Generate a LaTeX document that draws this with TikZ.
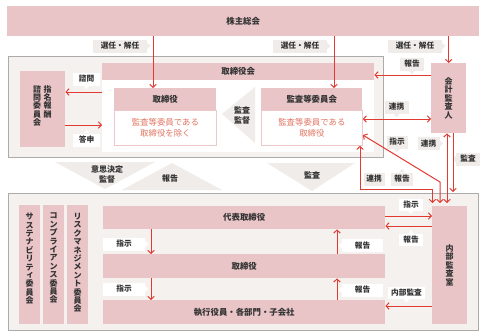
\documentclass[tikz,border=0pt]{standalone}
\usepackage{fontspec}
\setmainfont{Noto Sans CJK JP}
\usetikzlibrary{arrows.meta,calc}
\definecolor{pinkc}{HTML}{EAC5C8}
\definecolor{pinkln}{HTML}{EEC7CA}
\definecolor{redc}{HTML}{E23A31}
\definecolor{salmon}{HTML}{E27562}
\definecolor{lgray}{HTML}{F0ECE9}
\definecolor{bgg}{HTML}{F4F1EF}
\definecolor{frm}{HTML}{ABABAB}
\definecolor{txt}{HTML}{333333}
\newcommand\ptrD[2]{\fill[#1] ([xshift=-3pt]#2.south) -- ([xshift=3pt]#2.south) -- ([yshift=-3.5pt]#2.south) -- cycle;}
\newcommand\ptrU[2]{\fill[#1] ([xshift=-3pt]#2.north) -- ([xshift=3pt]#2.north) -- ([yshift=3.5pt]#2.north) -- cycle;}
\newcommand\ptrR[2]{\fill[#1] ([yshift=-3pt]#2.east) -- ([yshift=3pt]#2.east) -- ([xshift=3.5pt]#2.east) -- cycle;}
\newcommand\ptrL[2]{\fill[#1] ([yshift=-3pt]#2.west) -- ([yshift=3pt]#2.west) -- ([xshift=-3.5pt]#2.west) -- cycle;}
\newcommand\smallk[1]{\hspace*{1.2pt}\raisebox{1.2pt}{#1}}
\begin{document}
\begin{tikzpicture}[x=1pt,y=-1pt,
  box/.style={fill=pinkc, inner sep=0pt, anchor=north west, text=txt, font=\bfseries\fontsize{8.4}{10}\selectfont},
  vbox/.style={box, align=center, font=\bfseries\fontsize{8}{8.4}\selectfont},
  vtxt/.style={inner sep=0pt, anchor=north, align=center, text=txt, font=\bfseries\fontsize{8}{8.4}\selectfont},
  frame/.style={draw=frm, line width=0.8pt, fill=bgg, anchor=north west, inner sep=0pt},
  body/.style={draw=pinkln, line width=0.8pt, fill=white, anchor=north west, inner sep=0pt, align=center, text=salmon, font=\fontsize{8.4}{10.5}\selectfont},
  lbl/.style={inner sep=0pt, minimum height=13pt, text=txt, font=\bfseries\fontsize{7.7}{9}\selectfont},
  gl/.style={lbl, fill=lgray},
  wl/.style={lbl, fill=white},
  ttxt/.style={align=center, text=txt, inner sep=0pt, font=\bfseries\fontsize{8}{10}\selectfont},
  arr/.style={draw=redc, line width=1pt, -{Straight Barb[length=3pt,width=6.5pt]}},
  dbl/.style={draw=redc, line width=1pt, {Straight Barb[length=3pt,width=6.5pt]}-{Straight Barb[length=3pt,width=6.5pt]}}
]
\useasboundingbox (0,0) rectangle (480,332);
\fill[white] (0,0) rectangle (480,332);

% top
\node[box, minimum width=472pt, minimum height=30pt] (kabu) at (7,6) {株主総会};

% board frame
\node[frame, minimum width=375pt, minimum height=101pt] (bframe1) at (8,56) {};
\node[fill=white, anchor=north west, inner sep=0pt, minimum width=272pt, minimum height=89pt] (bwhite) at (102,63) {};
\node[box, minimum width=272pt, minimum height=17pt] (bhead) at (102,63) {取締役会};
\node[box, minimum width=102pt, minimum height=22pt] (thead) at (114,88) {取締役};
\node[body, minimum width=102pt, minimum height=35pt] (tbody) at (114,110) {監査等委員である\\取締役を除く};
\node[box, minimum width=101pt, minimum height=22pt] (khead) at (261,88) {監査等委員会};
\node[body, minimum width=101pt, minimum height=35pt] (kbody) at (261,110) {監査等委員である\\取締役};
\fill[lgray] (222,114) -- (255,87) -- (255,143) -- cycle;
\node[ttxt] (kk) at (242,115) {監査\\監督};

\node[box, minimum width=45pt, minimum height=76pt] (shimei) at (20,71) {};
\node[vtxt] (shimeiA) at (47.5,85) {指\\名\\報\\酬};
\node[vtxt] (shimeiB) at (37,85) {諮\\問\\委\\員\\会};

\node[vbox, minimum width=35pt, minimum height=70pt] (kaikei) at (431,63) {会\\計\\監\\査\\人};

% band triangles
\fill[lgray] (55,162) -- (155,162) -- (105,189) -- cycle;
\fill[lgray] (122,190) -- (222,190) -- (172,163) -- cycle;
\fill[lgray] (267,163) -- (355,163) -- (312,191) -- cycle;
\node[ttxt] (t1) at (107,174) {意思決定\\監督};
\node[ttxt] (t2) at (170,178) {報告};
\node[ttxt] (t3) at (312,175) {監査};

% execution frame
\node[frame, minimum width=470pt, minimum height=137pt] (bframe2) at (8,193) {};
\node[box, minimum width=21pt, minimum height=119pt] (c1) at (19,205) {};
\node[box, minimum width=21pt, minimum height=119pt] (c2) at (43,205) {};
\node[box, minimum width=21pt, minimum height=119pt] (c3) at (67,205) {};
\node[vtxt] (c1t) at (29.5,213) {サ\\ス\\テ\\ナ\\ビ\\リ\\テ\\\smallk{ィ}\\委\\員\\会};
\node[vtxt] (c2t) at (53.5,213) {コ\\ン\\プ\\ラ\\イ\\ア\\ン\\ス\\委\\員\\会};
\node[vtxt] (c3t) at (77.5,213) {リ\\ス\\ク\\マ\\ネ\\ジ\\メ\\ン\\ト\\委\\員\\会};
\node[box, minimum width=282pt, minimum height=23pt] (daihyo) at (103,206) {代表取締役};
\node[box, minimum width=282pt, minimum height=24pt] (tori2) at (103,254) {取締役};
\node[box, minimum width=282pt, minimum height=24pt] (shikko) at (103,300) {執行役員・各部門・子会社};
\node[vbox, minimum width=35pt, minimum height=118pt] (naibu) at (432,206) {内\\部\\監\\査\\室};

% labels
\node[gl, minimum width=54pt] (l1) at (120,46) {選任・解任}; \ptrR{lgray}{l1}
\node[gl, minimum width=54pt] (l2) at (300,46) {選任・解任}; \ptrR{lgray}{l2}
\node[gl, minimum width=54pt] (l3) at (415,46) {選任・解任}; \ptrR{lgray}{l3}
\node[gl, minimum width=24pt] (l4) at (412,64) {報告}; \ptrD{lgray}{l4}
\node[gl, minimum width=24pt] (l5) at (396.5,107) {連携}; \ptrD{lgray}{l5}
\node[wl, minimum width=27pt] (l6) at (86.5,79) {諮問}; \ptrD{white}{l6}
\node[wl, minimum width=27pt] (l7) at (86.5,140) {答申}; \ptrU{white}{l7}
\node[gl, minimum width=22pt] (l8) at (428.5,143.5) {連携}; \ptrR{lgray}{l8}
\node[gl, minimum width=24pt] (l9) at (468,159) {監査}; \ptrL{lgray}{l9}
\node[gl, minimum width=21pt] (l10) at (397,142) {指示}; \ptrD{lgray}{l10}
\node[gl, minimum width=21pt] (l11) at (374,179) {連携};
\node[gl, minimum width=22pt] (l12) at (402,179) {報告}; \ptrU{lgray}{l12}
\node[wl, minimum width=42pt] (l13) at (124,244) {指示}; \ptrR{white}{l13}
\node[wl, minimum width=42pt] (l14) at (124,289) {指示}; \ptrR{white}{l14}
\node[wl, minimum width=41pt] (l15) at (362.5,245.5) {報告}; \ptrL{white}{l15}
\node[wl, minimum width=41pt] (l16) at (362.5,290) {報告}; \ptrL{white}{l16}
\node[wl, minimum width=24pt, minimum height=12pt] (l17) at (411,204.5) {指示}; \ptrD{white}{l17}
\node[wl, minimum width=24pt, minimum height=12pt] (l18) at (411,240) {報告}; \ptrU{white}{l18}
\node[wl, minimum width=37pt, minimum height=12pt] (l19) at (406.5,293) {内部監査}; \ptrD{white}{l19}

% coordinates
\coordinate (xa) at (153,0);
\coordinate (xb) at (334,0);
\coordinate (ya) at (0,75);
\coordinate (yb) at (0,119);
\coordinate (yc) at (0,92);
\coordinate (yd) at (0,125);
\coordinate (pA) at (360,0);
\coordinate (pB) at (432.5,189);
\coordinate (yE) at (0,135);
\coordinate (pD) at (440,182);
\coordinate (xE) at (447,0);
\coordinate (xF) at (453,0);
\coordinate (xg) at (151,0);
\coordinate (xh) at (337,0);
\coordinate (y1) at (0,216);
\coordinate (y2) at (0,226);
\coordinate (y3) at (0,306);

% arrows
\draw[arr] (kabu.south -| xa) -- (thead.north -| xa);
\draw[arr] (kabu.south -| xb) -- (khead.north -| xb);
\draw[arr] (kabu.south -| kaikei.north) -- (kaikei.north);
\draw[arr] (kaikei.west |- ya) -- (bhead.east |- ya);
\draw[dbl] (kbody.east |- yb) -- (kaikei.west |- yb);
\draw[arr] (bwhite.west |- yc) -- (shimei.east |- yc);
\draw[arr] (shimei.east |- yd) -- (bwhite.west |- yd);
\draw[dbl, shorten >=3pt] (kbody.south -| pA) |- (pB) -- (naibu.north -| pB);
\draw[dbl, shorten >=3pt] (kbody.east |- yE) -- (pD) -- (naibu.north -| pD);
\draw[dbl, shorten >=3pt] (kaikei.south -| xE) -- (naibu.north -| xE);
\draw[arr, shorten >=1pt] (kaikei.south -| xF) -- (bframe2.north -| xF);
\draw[arr] (daihyo.south -| xg) -- (tori2.north -| xg);
\draw[arr] (tori2.south -| xg) -- (shikko.north -| xg);
\draw[arr] (tori2.north -| xh) -- (daihyo.south -| xh);
\draw[arr] (shikko.north -| xh) -- (tori2.south -| xh);
\draw[arr] (daihyo.east |- y1) -- (naibu.west |- y1);
\draw[arr] (naibu.west |- y2) -- (daihyo.east |- y2);
\draw[arr] (naibu.west |- y3) -- (shikko.east |- y3);
\end{tikzpicture}
\end{document}
